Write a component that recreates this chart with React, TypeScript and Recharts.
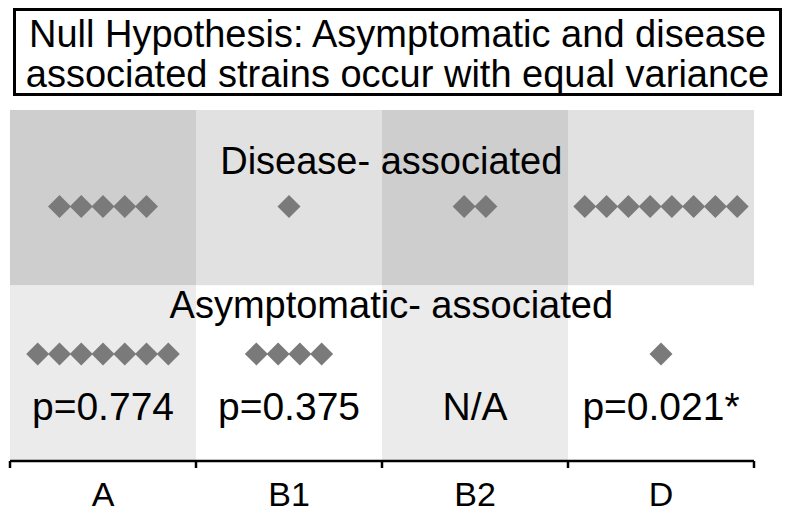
import React from "react";
import {
  ScatterChart, Scatter, XAxis, YAxis, ReferenceArea, ReferenceDot,
} from "recharts";

const categories = ["A", "B1", "B2", "D"];
const diseaseCounts = [5, 1, 2, 8];
const asymptomaticCounts = [7, 4, 0, 1];
const pLabels = ["p=0.774", "p=0.375", "N/A", "p=0.021*"];
const boundaryTicks = [0, 1, 2, 3, 4];

const titleLines = [
  "Null Hypothesis: Asymptomatic and disease",
  "associated strains occur with equal variance",
];

const W = 790;
const H = 515;
const PLOT_LEFT = 10;
const PLOT_RIGHT = 754;
const COL_W = (PLOT_RIGHT - PLOT_LEFT) / 4;
const FONT = '"Liberation Sans", Arial, sans-serif';

// row layout (y domain 0..2, top row = disease)
const DISEASE_Y = 1.45;
const ASYMP_Y = 0.61;
const DISEASE_CAPTION_Y = 1.635;
const ASYMP_CAPTION_Y = 0.815;
const P_Y = 0.232;
const STEP = 0.117; // diamond spacing in column units

const topFill = ["#cecece", "#e1e1e1", "#cecece", "#e1e1e1"];
const bottomFill = ["#ebebeb", "#ffffff", "#ebebeb", "#ffffff"];

function spread(counts: number[], y: number) {
  const pts: { x: number; y: number }[] = [];
  counts.forEach((n, i) => {
    for (let k = 0; k < n; k++) {
      pts.push({ x: i + 0.5 + (k - (n - 1) / 2) * STEP, y });
    }
  });
  return pts;
}

const diseasePts = spread(diseaseCounts, DISEASE_Y);
const asymptomaticPts = spread(asymptomaticCounts, ASYMP_Y);

const Diamond = (props: any) => {
  const { cx, cy } = props;
  const s = 11.5;
  return (
    <polygon
      points={`${cx},${cy - s} ${cx + s},${cy} ${cx},${cy + s} ${cx - s},${cy}`}
      fill="#7a7a7a"
    />
  );
};

const CatTick = (props: any) => {
  const { x, y, index } = props;
  if (index >= categories.length) return <g />;
  return (
    <text x={x + COL_W / 2} y={y} dy={38} textAnchor="middle" fontSize={34} fontFamily={FONT} fill="#000">
      {categories[index]}
    </text>
  );
};

const textLabel = (value: string, size: number) => (p: any) => {
  const vb = p.viewBox || {};
  const cx = (vb.x ?? 0) + (vb.width ?? 0) / 2;
  const cy = (vb.y ?? 0) + (vb.height ?? 0) / 2;
  return (
    <text x={cx} y={cy} textAnchor="middle" fontSize={size} fontFamily={FONT} fill="#000">
      {value}
    </text>
  );
};

export default function App() {
  return (
    <div style={{ position: "absolute", left: 0, top: 0, width: W, height: H, background: "#fff", overflow: "hidden" }}>
      <ScatterChart
        width={W}
        height={H}
        margin={{ top: 110, left: PLOT_LEFT, right: W - PLOT_RIGHT, bottom: 0 }}
      >
        <XAxis
          type="number"
          dataKey="x"
          domain={[0, 4]}
          ticks={boundaryTicks}
          height={54}
          axisLine={{ stroke: "#000", strokeWidth: 2.5 }}
          tickLine={{ stroke: "#000", strokeWidth: 2.5 }}
          tickSize={7}
          tickMargin={0}
          tick={<CatTick />}
          interval={0}
        />
        <YAxis type="number" dataKey="y" domain={[0, 2]} hide />

        {/* ── background cells ── */}
        {categories.map((c, i) => (
          <ReferenceArea key={"t" + c} x1={i} x2={i + 1} y1={1} y2={2} fill={topFill[i]} fillOpacity={1} stroke="none" />
        ))}
        {categories.map((c, i) => (
          <ReferenceArea key={"b" + c} x1={i} x2={i + 1} y1={0} y2={1} fill={bottomFill[i]} fillOpacity={1} stroke="none" />
        ))}

        {/* ── row captions and p-values ── */}
        <ReferenceDot x={2.05} y={DISEASE_CAPTION_Y} r={1} fill="none" stroke="none" label={textLabel("Disease- associated", 38)} />
        <ReferenceDot x={2.05} y={ASYMP_CAPTION_Y} r={1} fill="none" stroke="none" label={textLabel("Asymptomatic- associated", 38)} />
        {pLabels.map((p, i) => (
          <ReferenceDot key={p} x={i + 0.5} y={P_Y} r={1} fill="none" stroke="none" label={textLabel(p, 39)} />
        ))}

        <Scatter data={diseasePts} shape={<Diamond />} isAnimationActive={false} />
        <Scatter data={asymptomaticPts} shape={<Diamond />} isAnimationActive={false} />
      </ScatterChart>

      <div
        style={{
          position: "absolute", left: 13, top: 8, width: 769, height: 88,
          boxSizing: "border-box", border: "3px solid #000", paddingTop: 3,
          fontFamily: FONT, fontSize: 38, lineHeight: "40px", textAlign: "center",
          whiteSpace: "nowrap", color: "#000", background: "#fff",
        }}
      >
        {titleLines.map((l) => (
          <div key={l}>{l}</div>
        ))}
      </div>
    </div>
  );
}
